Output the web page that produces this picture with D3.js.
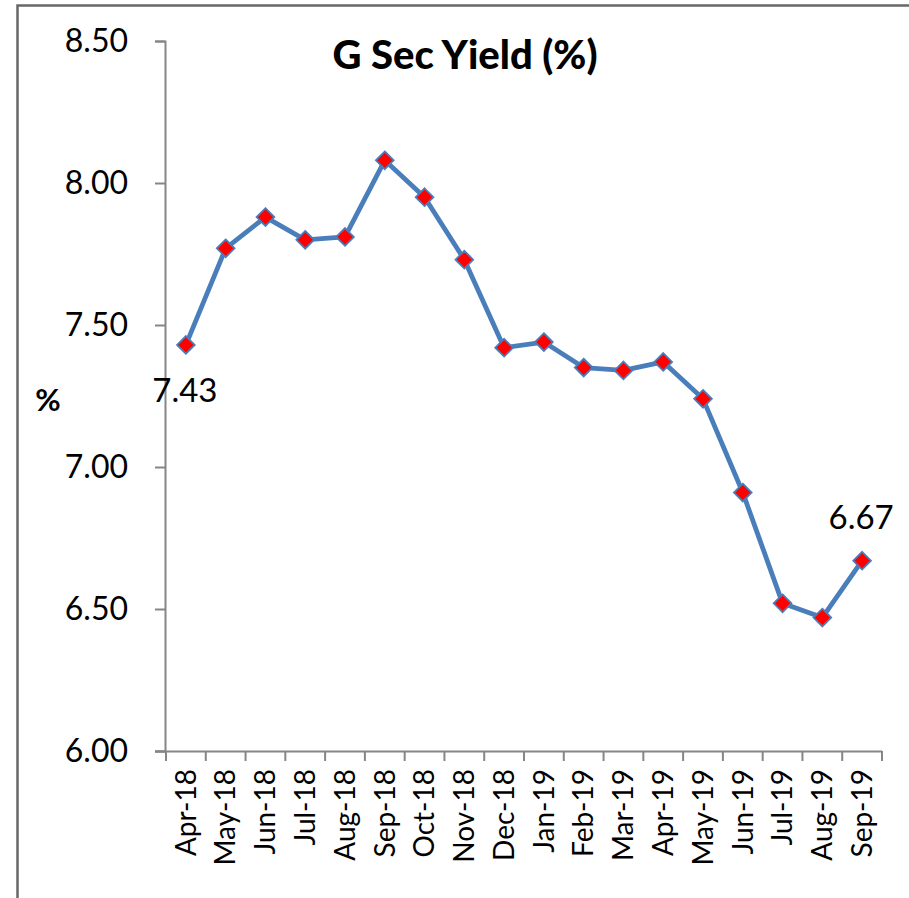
<!DOCTYPE html>
<html>
<head>
<meta charset="utf-8">
<script src="https://cdn.jsdelivr.net/npm/d3@7"></script>
<style>
    body { margin: 0; background: #fff; }
    svg { display: block; font-family: Lato, "Open Sans", sans-serif; }
</style>
</head>
<body>
<div id="container"></div>
<script>
// monthly data
const months = ["Apr-18", "May-18", "Jun-18", "Jul-18", "Aug-18", "Sep-18", "Oct-18", "Nov-18", "Dec-18",
    "Jan-19", "Feb-19", "Mar-19", "Apr-19", "May-19", "Jun-19", "Jul-19", "Aug-19", "Sep-19"];
const yields = [7.43, 7.77, 7.88, 7.80, 7.81, 8.08, 7.95, 7.73, 7.42,
    7.44, 7.35, 7.34, 7.37, 7.24, 6.91, 6.52, 6.47, 6.67];
const yTicks = [6.0, 6.5, 7.0, 7.5, 8.0, 8.5];

const width = 909, height = 898;
const margin = { top: 41, right: 27, bottom: 147, left: 166 };

const svg = d3.select("#container")
    .append("svg")
    .attr("width", width)
    .attr("height", height);

// outer frame (only left & top visible in the picture)
svg.append("path")
    .attr("d", `M17.5,${height} V5.5 H${width}`)
    .attr("fill", "none")
    .attr("stroke", "#686868")
    .attr("stroke-width", 2.5);

const x = d3.scaleBand()
    .domain(months)
    .range([margin.left, width - margin.right]);

const y = d3.scaleLinear()
    .domain([6, 8.5])
    .range([height - margin.bottom, margin.top]);

// y axis
const yAxis = svg.append("g")
    .attr("transform", `translate(${margin.left - 1},0)`)
    .call(d3.axisLeft(y).tickValues(yTicks).tickFormat(d3.format(".2f")).tickSize(10).tickPadding(27));
yAxis.select(".domain").attr("stroke", "#868686").attr("stroke-width", 2);
yAxis.selectAll(".tick line").attr("stroke", "#868686").attr("stroke-width", 2);
yAxis.selectAll("text").attr("font-size", 32).attr("fill", "#000").attr("font-family", "Lato");

// x axis
const xAxis = svg.append("g")
    .attr("transform", `translate(0,${height - margin.bottom})`)
    .call(d3.axisBottom(x).tickSize(0).tickPadding(0));
xAxis.select(".domain")
    .attr("d", `M${margin.left - 11},0.5H${width - margin.right}`)
    .attr("stroke", "#868686").attr("stroke-width", 2);
xAxis.selectAll(".tick line").remove();
xAxis.selectAll("text")
    .attr("transform", "rotate(-90)")
    .attr("text-anchor", "end")
    .attr("dy", "0.35em")
    .attr("x", -18)
    .attr("y", 0)
    .attr("font-size", 28)
    .attr("fill", "#000")
    .attr("font-family", "Lato");

// tick marks at category boundaries
const bounds = months.map(m => x(m)).concat([x(months[months.length - 1]) + x.bandwidth()]);
xAxis.selectAll("line.bound")
    .data(bounds)
    .join("line")
    .attr("class", "bound")
    .attr("x1", d => d).attr("x2", d => d)
    .attr("y1", 0).attr("y2", 10)
    .attr("stroke", "#868686").attr("stroke-width", 2);

// title
svg.append("text")
    .text("G Sec Yield (%)")
    .attr("x", 465)
    .attr("y", 69)
    .attr("text-anchor", "middle")
    .attr("font-size", 40)
    .attr("font-weight", 900);

// y axis label
svg.append("text")
    .text("%")
    .attr("x", 48)
    .attr("y", 411)
    .attr("text-anchor", "middle")
    .attr("font-size", 31)
    .attr("font-weight", "bold");

const cx = d => x(d.m) + x.bandwidth() / 2;
const data = months.map((m, i) => ({ m, v: yields[i] }));

svg.append("path")
    .datum(data)
    .attr("fill", "none")
    .attr("stroke", "#4A7EBB")
    .attr("stroke-width", 4.8)
    .attr("stroke-linejoin", "round")
    .attr("d", d3.line().x(cx).y(d => y(d.v)));

svg.append("g")
    .selectAll("path")
    .data(data)
    .join("path")
    .attr("d", d3.symbol(d3.symbolDiamond2, 200))
    .attr("transform", d => `translate(${cx(d)},${y(d.v)})`)
    .attr("fill", "#FF0000")
    .attr("stroke", "#4A7EBB")
    .attr("stroke-width", 1.8);

// end labels
const first = data[0], last = data[data.length - 1];
svg.append("text")
    .text(first.v.toFixed(2))
    .attr("x", cx(first) - 1)
    .attr("y", y(first.v) + 57)
    .attr("text-anchor", "middle")
    .attr("font-size", 33);
svg.append("text")
    .text(last.v.toFixed(2))
    .attr("x", cx(last) - 1)
    .attr("y", y(last.v) - 32)
    .attr("text-anchor", "middle")
    .attr("font-size", 33);
</script>
</body>
</html>
